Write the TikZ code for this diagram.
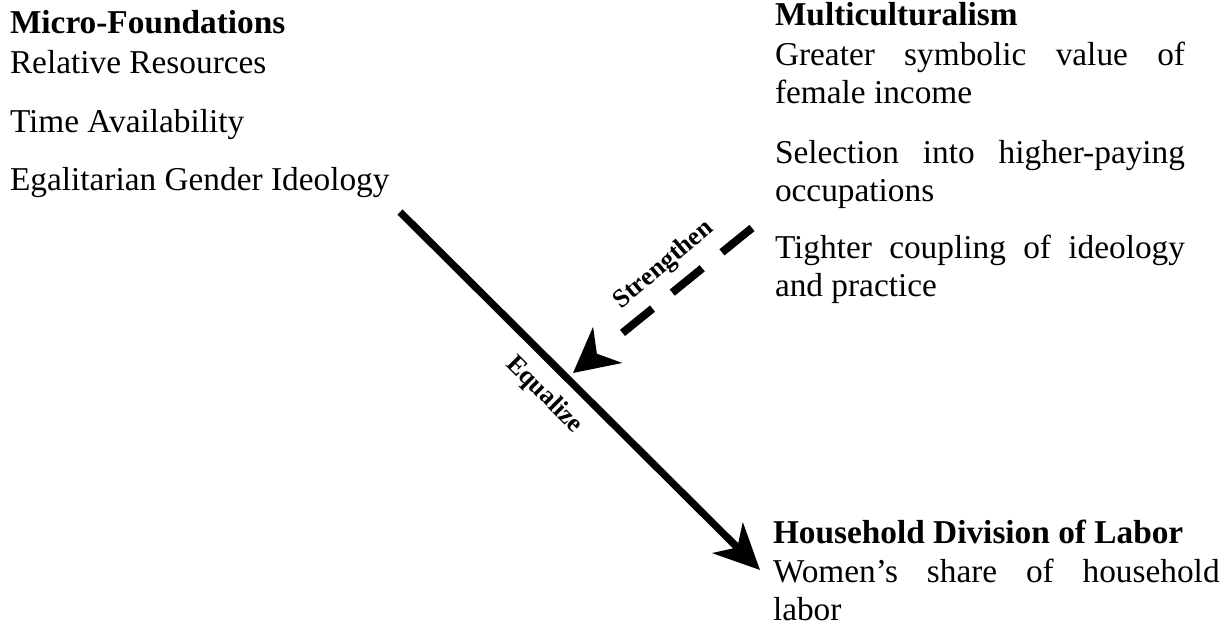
\documentclass[tikz,border=0pt]{standalone}
\usepackage{fontspec}
\setmainfont{Liberation Serif}
\usetikzlibrary{arrows.meta}
\begin{document}
\begin{tikzpicture}[x=0.75pt,y=-0.75pt,
  txt/.style={anchor=base west, inner sep=0pt, outer sep=0pt, font=\fontsize{25}{28.5}\selectfont},
  head/.style={txt, font=\fontsize{25}{28.5}\selectfont\bfseries},
  para/.style={txt, text width=#1, align=justify},
  lab/.style={inner sep=0pt, font=\fontsize{19.5}{21}\selectfont\bfseries},
  mainarrow/.style={line width=5.5pt, -{Stealth[length=34pt,width=32pt,inset=10pt]}},
  dasharrow/.style={line width=6pt, dash pattern=on 29pt off 19pt on 29pt off 19pt on 29pt off 120pt, -{Stealth[length=33pt,width=34pt,inset=10pt]}}
]
\path[use as bounding box] (0,0) rectangle (1232,628);

% left block
\node[head] (mf) at (10,33) {Micro-Foundations};
\node[txt] (rr) at (10,73) {Relative Resources};
\node[txt] (ta) at (10,132) {Time Availability};
\node[txt] (eg) at (10,190) {Egalitarian Gender Ideology};

% right block
\node[head] (mc) at (775,26) {Multiculturalism};
\node[para=307.5pt] (p1) at (775,65) {Greater symbolic value of\linebreak female income};
\node[para=307.5pt] (p2) at (775,163) {Selection into higher-paying\linebreak occupations};
\node[para=307.5pt] (p3) at (775,258) {Tighter coupling of ideology\linebreak and practice};

% bottom block
\node[head] (hd) at (773,543) {Household Division of Labor};
\node[para=335pt] (ws) at (773,582) {Women's share of household\linebreak labor};

% connectors
\coordinate (a1) at (400,212);
\coordinate (a2) at (760,570);
\coordinate (b1) at (752,228);
\coordinate (b2) at (573,373);
\draw[mainarrow] (a1) -- (a2);
\draw[dasharrow] (b1) -- (b2);

% labels
\node[lab, rotate=40] (st) at (664,265) {Strengthen};
\node[lab, rotate=-45] (eq) at (544,395) {Equalize};
\end{tikzpicture}
\end{document}
